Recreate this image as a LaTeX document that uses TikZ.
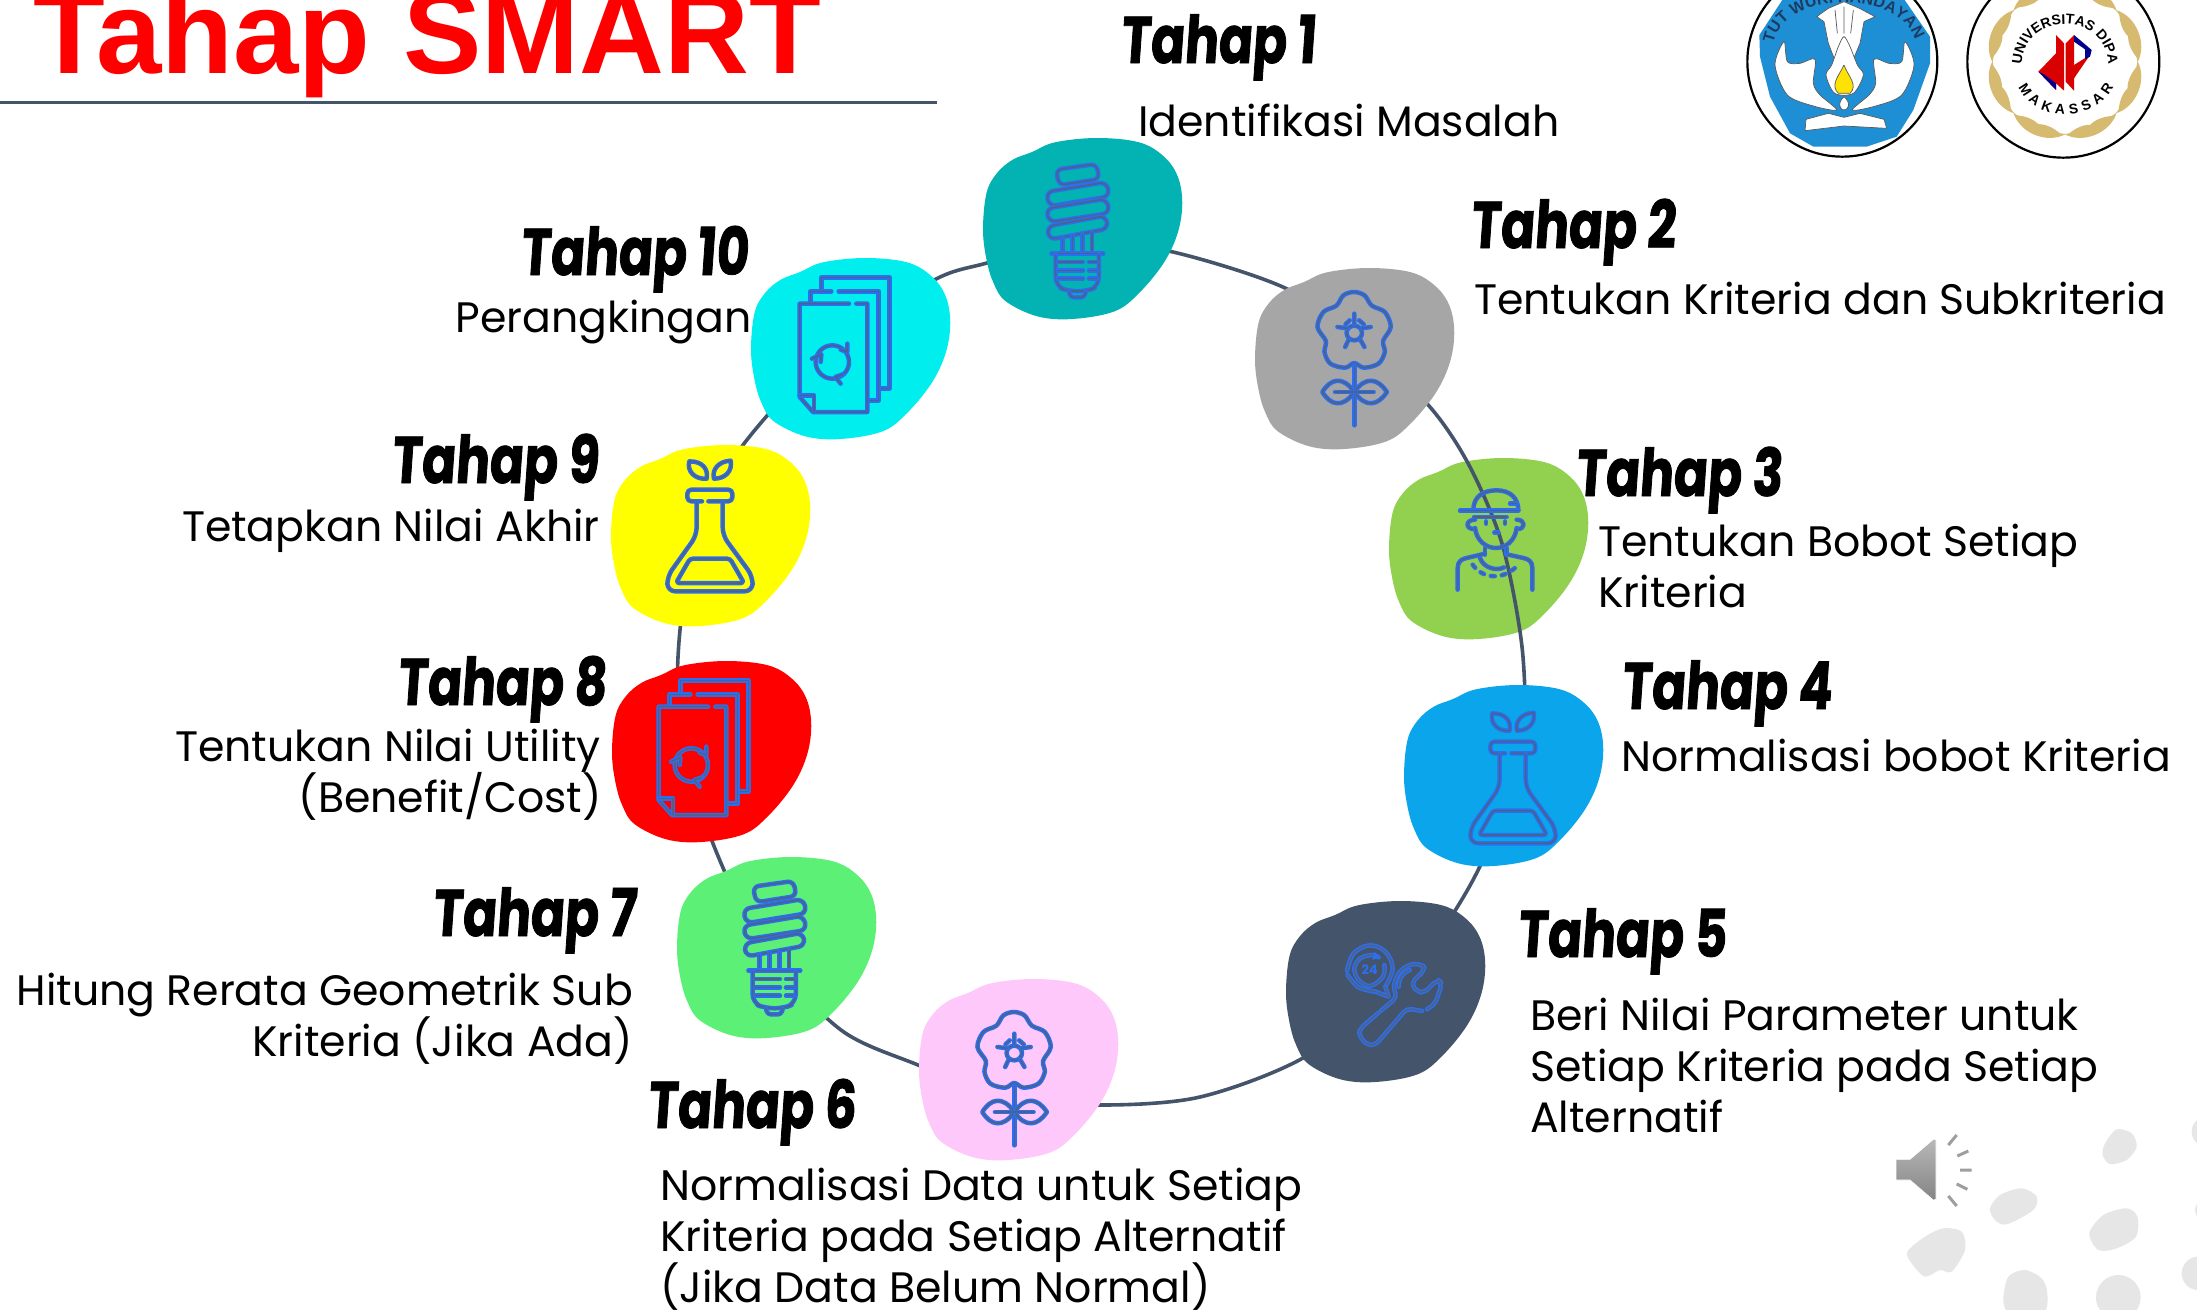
\documentclass[tikz,border=0pt]{standalone}
\usepackage{fontspec}
\usetikzlibrary{decorations.text}
\setmainfont{Poppins}
\newfontfamily\tahapf[FakeStretch=0.76,FakeSlant=0.07,FakeBold=1.2]{Poppins}
\newfontfamily\arialf{Liberation Sans}
\definecolor{ringc}{HTML}{44546A}
\definecolor{iconblue}{HTML}{2B6FF0}
\definecolor{iconcore}{HTML}{4F6080}
\definecolor{golden}{HTML}{D6BA70}
\definecolor{dots}{HTML}{E6E6E6}
\definecolor{pureyellow}{HTML}{FFFF00}
\definecolor{purered}{HTML}{FF0000}
\definecolor{logoblue}{HTML}{1E8FD5}
\definecolor{logonavy}{HTML}{1F3A5F}
\tikzset{
  ring/.style={draw=ringc,line width=3.6pt},
  icon/.style={draw=iconblue,double=iconcore,line width=1.5pt,double distance=1.5pt,line cap=round,line join=round},
  body/.style={font=\fontsize{42.6}{51}\selectfont,inner sep=0pt,text=black},
  bodyl/.style={body,anchor=base west},
  bodyr/.style={body,anchor=base east},
  tahap/.style={font=\tahapf\bfseries\fontsize{66}{70}\selectfont,inner sep=0pt,anchor=base west,text=black},
  logoring/.style={fill=white,draw=black,line width=2.2pt},
  leafline/.style={draw=black!65,line width=.7pt}
}
\newcommand{\blobat}[3]{%
  \begin{scope}[shift={(#1)},x=.3508pt,y=-.33333pt,shift={(-95,-55)}]
    \fill[#2] plot[smooth cycle,tension=.6] coordinates {(235,97)(300,68)(420,55)(540,68)(610,110)(650,170)(663,250)(650,340)(610,430)(540,520)(470,575)(350,598)(250,590)(160,545)(125,490)(105,420)(95,330)(105,220)(135,160)(180,120)};
    \coordinate (#3) at (380,326);
  \end{scope}}
\newcommand{\iconbulb}[1]{%
  \begin{scope}[shift={(#1)},x=.3508pt,y=-.33333pt,shift={(-95,-55)}]
    \draw[icon,rounded corners=6pt] (303,150)--(418,133)--(427,178)--(312,197)--cycle;
    \draw[icon,rounded corners=7pt] (275,217)--(447,187)--(456,230)--(283,260)--cycle;
    \draw[icon,rounded corners=7pt] (275,267)--(447,237)--(456,280)--(283,308)--cycle;
    \draw[icon,rounded corners=7pt] (278,320)--(445,288)--(452,327)--(283,360)--cycle;
    \draw[icon] (322,355)--(322,400) (350,347)--(350,400) (378,345)--(378,400) (405,340)--(405,400);
    \draw[icon] (290,402)--(438,402);
    \draw[icon,rounded corners=9pt] (302,405)--(302,500)--(340,515)--(390,515)--(425,500)--(425,405);
    \draw[icon] (308,427)--(380,427) (397,427)--(420,427) (308,452)--(380,452) (397,452)--(420,452) (308,477)--(380,477) (397,477)--(420,477);
    \draw[icon,rounded corners=3pt] (340,516)--(345,533)--(383,533)--(388,516);
  \end{scope}}
\newcommand{\iconflower}[1]{%
  \begin{scope}[shift={(#1)},x=.3508pt,y=-.33333pt,shift={(-870,-443)}]
    \draw[icon] plot[smooth cycle,tension=.55] coordinates {(1153,728)(1180,742)(1222,730)(1240,695)(1235,662)(1257,620)(1240,575)(1203,556)(1182,525)(1152,515)(1122,525)(1102,556)(1065,575)(1048,620)(1072,662)(1068,695)(1085,730)(1127,742)};
    \draw[icon] (1153,638) circle[radius=22];
    \draw[icon] (1153,580)--(1153,612) (1105,620)--(1133,624) (1200,620)--(1173,624) (1127,680)--(1137,658) (1182,680)--(1170,658) (1140,600)--(1128,612) (1167,600)--(1180,612);
    \draw[icon] (1153,735)--(1153,915);
    \draw[icon] (1153,815) .. controls (1120,765) and (1085,775) .. (1062,815) .. controls (1085,855) and (1120,865) .. (1153,815);
    \draw[icon] (1153,815) .. controls (1186,765) and (1221,775) .. (1246,815) .. controls (1221,855) and (1186,865) .. (1153,815);
    \draw[icon] (1098,815)--(1208,815);
  \end{scope}}
\newcommand{\iconperson}[1]{%
  \begin{scope}[shift={(#1)},x=.33333pt,y=-.33333pt,shift={(-57,-55)}]
    \draw[icon] (310,212) .. controls (310,170) and (340,152) .. (380,152) .. controls (420,152) and (445,175) .. (445,212);
    \draw[icon] (270,213)--(445,213) (312,232)--(410,232) (420,192)--(440,192);
    \draw[icon] (315,240) .. controls (285,240) and (285,270) .. (315,268);
    \draw[icon] (440,240) .. controls (468,240) and (468,270) .. (440,268);
    \draw[icon] (315,265) .. controls (320,305) and (350,325) .. (378,325) .. controls (405,325) and (435,305) .. (440,265);
    \draw[icon] (348,245)--(348,252) (405,245)--(405,252) (373,278)--(385,278);
    \draw[icon] (345,325)--(345,345) (410,325)--(410,345);
    \draw[icon] (263,450)--(263,385) .. controls (263,365) and (275,358) .. (290,355)--(345,342);
    \draw[icon] (487,450)--(487,385) .. controls (487,365) and (475,358) .. (460,355)--(415,345);
    \draw[icon] (330,355) .. controls (340,385) and (380,395) .. (402,383);
    \draw[icon,dash pattern=on 4pt off 7pt] (308,375) .. controls (335,415) and (395,425) .. (440,380);
  \end{scope}}
\newcommand{\iconwrench}[1]{%
  \begin{scope}[shift={(#1)},x=.33333pt,y=-.33333pt,shift={(-107,-63)}]
    \draw[icon] plot[smooth,tension=.6] coordinates {(290,272)(310,220)(358,196)(405,215)(427,265)(405,320)};
    \draw[icon] (405,320)--(415,350)--(375,335);
    \draw[icon] plot[smooth,tension=.6] coordinates {(375,335)(325,322)(292,285)};
    \draw[icon] plot[smooth,tension=.6] coordinates {(402,255)(398,290)(360,318)(325,300)(312,265)(330,235)(365,225)(385,232)};
    \fill[iconblue] (372,215)--(388,232)--(366,240)--cycle;
    \node[inner sep=0pt,text=iconblue,font=\bfseries\fontsize{13}{13}\selectfont] (n24) at (358,270) {24};
    \draw[icon,rounded corners=5pt] (385,398)--(330,445)--(325,465)--(350,495)--(375,495)--(470,385)--(515,393);
    \draw[icon,rounded corners=5pt] (530,388)--(555,370)--(575,310)--(562,298)--(522,338)--(500,335)--(482,310)--(525,268)--(515,252)--(480,252)--(445,275)--(428,320)--(440,352)--(392,392);
    \draw[icon] (445,320) .. controls (445,295) and (460,275) .. (478,270);
  \end{scope}}
\newcommand{\icondocs}[1]{%
  \begin{scope}[shift={(#1)},x=.33333pt,y=-.33333pt,shift={(-35,-63)}]
    \draw[icon] (240,158)--(240,122)--(445,122)--(445,455)--(412,455);
    \draw[icon] (270,163)--(207,163)--(207,195) (292,163)--(412,163)--(412,490)--(380,490);
    \draw[icon] (323,200)--(175,200)--(175,480)--(215,525)--(378,525)--(378,200)--(345,200);
    \draw[icon] (175,475)--(218,475)--(218,525);
    \draw[icon] (273,375) circle[radius=50];
    \draw[icon] (318,320)--(318,345)--(298,338) (212,365)--(240,352)--(238,375) (298,440)--(282,420)--(305,412);
  \end{scope}}
\newcommand{\iconflask}[1]{%
  \begin{scope}[shift={(#1)},x=.33333pt,y=-.33333pt,shift={(-10,-18)}]
    \draw[icon,rounded corners=4pt] (316,220)--(272,220)--(272,185)--(407,185)--(407,220)--(335,220);
    \draw[icon,rounded corners=8pt] (300,222)--(300,322)--(212,445)--(212,490)--(468,490)--(468,445)--(378,322)--(378,222);
    \draw[icon,rounded corners=3pt] (280,392)--(400,392)--(442,465)--(238,465)--cycle;
    \draw[icon] (278,100) .. controls (320,100) and (335,125) .. (330,152) .. controls (295,155) and (270,130) .. (278,100);
    \draw[icon] (402,98) .. controls (365,100) and (345,125) .. (352,152) .. controls (385,152) and (408,130) .. (402,98);
  \end{scope}}
\begin{document}
\begin{tikzpicture}[x=1pt,y=-1pt]
\clip (0,0) rectangle (2197,1309);
\fill[white] (0,0) rectangle (2197,1309);
% pale dots and speaker
\begin{scope}[shift={(1850,1100)},x=.33333pt,y=-.33333pt]
  \fill[dots] plot[smooth cycle] coordinates {(765,130)(800,88)(845,100)(860,140)(830,180)(780,192)(758,165)};
  \fill[dots] plot[smooth cycle] coordinates {(420,325)(450,285)(515,265)(560,290)(550,330)(470,373)(435,360)};
  \fill[dots] plot[smooth cycle] coordinates {(172,455)(225,410)(280,385)(335,395)(345,450)(305,515)(270,510)(225,530)(185,490)};
  \fill[dots] plot[smooth cycle] coordinates {(718,400)(760,345)(830,325)(862,350)(858,410)(800,445)(745,450)};
  \fill[dots] plot[smooth cycle] coordinates {(460,600)(475,530)(525,510)(575,535)(592,580)(580,640)(480,640)};
  \fill[dots] (805,592) circle[radius=67];
  \fill[dots] (1070,95) circle[radius=45];
  \fill[dots] (1065,330) circle[radius=30];
  \fill[dots] (1045,520) circle[radius=50];
  \shade[top color=black!28,bottom color=black!48,draw=white,line width=.6pt] (138,178)--(180,178)--(250,118)--(258,118)--(258,298)--(250,300)--(180,240)--(138,240)--cycle;
  \draw[black!38,line width=3pt] (295,135)--(320,105) (322,168)--(355,153) (330,210)--(365,210) (320,252)--(352,268) (295,288)--(320,318);
\end{scope}
% title
\node[inner sep=0pt,anchor=base west,text=purered,font=\arialf\bfseries\fontsize{117.5}{118}\selectfont] (title) at (33,73) {Tahap SMART};
\coordinate (ruleA) at (0,102);
\coordinate (ruleB) at (937,102);
\draw[ringc,line width=3pt] (ruleA)--(ruleB);
% logos
\begin{scope}[shift={(1700,0)},x=.33333pt,y=-.33333pt]
  \draw[logoring] (427,185) circle[radius=285];
  \fill[logoblue] plot coordinates {(178,105)(260,-20)(600,-20)(690,110)(690,190)(640,330)(590,410)(500,440)(340,440)(270,400)(210,290)(180,170)} -- cycle;
  \path[decorate,decoration={text along path,text align={center},text={|\color{logonavy}\arialf\bfseries\fontsize{16}{16}\selectfont|TUT WURI HANDAYANI}}] (228,105) .. controls (285,-25) and (580,-25) .. (640,105);
  \filldraw[fill=white,leafline] (350,50)--(385,25)--(432,5)--(478,25)--(525,50)--(492,65)--(480,130)--(455,190)--(432,112)--(408,190)--(385,130)--(372,65)--cycle;
  \draw[leafline] (405,30)--(412,100) (432,20)--(432,100) (460,30)--(452,100);
  \filldraw[fill=white,leafline] plot[smooth cycle,tension=.5] coordinates {(252,125)(225,195)(262,285)(340,318)(410,330)(360,285)(340,250)(345,178)(300,190)(262,185)};
  \filldraw[fill=white,leafline] plot[smooth cycle,tension=.5] coordinates {(615,125)(642,195)(605,285)(527,318)(457,330)(507,285)(527,250)(522,178)(567,190)(605,185)};
  \filldraw[fill=white,leafline] plot[smooth cycle] coordinates {(432,110)(450,140)(472,195)(490,225)(460,280)(404,280)(378,225)(395,195)(415,140)};
  \filldraw[fill=yellow!85!orange,leafline] (432,195) .. controls (415,230) and (390,255) .. (415,280) -- (450,280) .. controls (475,255) and (445,230) .. (432,195);
  \filldraw[fill=white,leafline] (432,290) .. controls (410,310) and (420,330) .. (432,330) .. controls (445,330) and (455,310) .. (432,290);
  \filldraw[fill=white,leafline] (318,358)--(385,340)--(432,352)--(480,340)--(552,358)--(560,385)--(432,378)--(315,392)--cycle;
\end{scope}
\begin{scope}[shift={(1700,0)},x=.33333pt,y=-.33333pt]
  \draw[logoring] (1090,185) circle[radius=288];
  \foreach \a in {22.5,67.5,...,337.5}{
    \begin{scope}[shift={(1095,185)},rotate=\a]
      \fill[golden] (200,-85) .. controls (250,-45) and (250,45) .. (200,85) .. controls (214,35) and (214,-35) .. (200,-85);
      \fill[golden] (205,-70) .. controls (235,-40) and (235,-5) .. (208,10) .. controls (195,-10) and (195,-40) .. (205,-70);
      \fill[golden] (208,-5) .. controls (236,10) and (236,40) .. (205,75) .. controls (195,45) and (195,15) .. (208,-5);
    \end{scope}}
  \path[decorate,decoration={text along path,text align={center},text={|\arialf\bfseries\fontsize{14}{14}\selectfont|UNIVERSITAS DIPA}}] (965,200) .. controls (965,30) and (1225,30) .. (1225,200);
  \path[decorate,decoration={text along path,text align={fit to path},text={|\arialf\bfseries\fontsize{14}{14}\selectfont|MAKASSAR}}] (955,262) .. controls (1005,370) and (1185,370) .. (1240,262);
  \fill[red!85!black] (1068,105)--(1092,130)--(1092,272)--(1068,250)--cycle;
  \fill[red!85!black] (1015,215)--(1068,160)--(1068,270)--cycle;
  \fill[red!85!black] (1097,130)--(1122,105)--(1122,272)--(1097,245)--cycle;
  \fill[red!85!black] (1122,195)--(1170,165)--(1122,235)--cycle;
  \fill[blue!55!black] (1122,105)--(1175,150)--(1170,170)--(1155,178)--(1155,148)--(1122,125)--cycle;
  \fill[blue!55!black] (1015,215)--(1068,270)--(1068,250)--(1030,222)--cycle;
\end{scope}
% blobs and ring
\blobat{1389,458}{color={rgb,255:red,146;green,208;blue,80}}{b3}
\coordinate (r01) at (1077,240);\coordinate (r02) at (1173,252);\coordinate (r03) at (1285,288);\coordinate (r04) at (1360,340);\coordinate (r05) at (1430,407);
\coordinate (r06) at (1470,467);\coordinate (r07) at (1503,547);\coordinate (r08) at (1523,657);\coordinate (r09) at (1520,760);\coordinate (r10) at (1473,880);
\coordinate (r11) at (1400,985);\coordinate (r12) at (1303,1058);\coordinate (r13) at (1200,1097);\coordinate (r14) at (1101,1105);\coordinate (r15) at (1000,1097);
\coordinate (r16) at (918,1065);\coordinate (r17) at (841,1030);\coordinate (r18) at (765,950);\coordinate (r19) at (712,841);\coordinate (r20) at (680,730);
\coordinate (r21) at (680,630);\coordinate (r22) at (700,530);\coordinate (r23) at (743,445);\coordinate (r24) at (845,335);\coordinate (r25) at (936,279);\coordinate (r26) at (987,263);
\draw[ring] plot[smooth cycle,tension=.5] coordinates {(r01)(r02)(r03)(r04)(r05)(r06)(r07)(r08)(r09)(r10)(r11)(r12)(r13)(r14)(r15)(r16)(r17)(r18)(r19)(r20)(r21)(r22)(r23)(r24)(r25)(r26)};
\blobat{983,138}{color={rgb,255:red,3;green,178;blue,178}}{b1}
\blobat{1255,268}{color={rgb,255:red,166;green,166;blue,166}}{b2}
\blobat{1404,685}{color={rgb,255:red,11;green,165;blue,236}}{b4}
\blobat{1286,901}{color=ringc}{b5}
\blobat{919,979}{color={rgb,255:red,255;green,200;blue,250}}{b6}
\blobat{677,857}{color={rgb,255:red,92;green,240;blue,118}}{b7}
\blobat{612,661}{color=purered}{b8}
\blobat{611,445}{color=pureyellow}{b9}
\blobat{751,258}{color={rgb,255:red,0;green,238;blue,238}}{b10}
% icons
\iconbulb{983,138}
\iconflower{1255,268}
\iconperson{1389,458}
\iconflask{1403,686}
\iconwrench{1286,901}
\iconflower{915,988}
\iconbulb{680,855}
\icondocs{612,661}
\iconflask{600,434}
\icondocs{753,258}
% labels
\node[tahap] (h1) at (1120,63) {Tahap 1};
\node[tahap] (h2) at (1470,248) {Tahap 2};
\node[tahap] (h3) at (1575,496) {Tahap 3};
\node[tahap] (h4) at (1621,709) {Tahap 4};
\node[tahap] (h5) at (1517,957) {Tahap 5};
\node[tahap] (h6) at (647,1128) {Tahap 6};
\node[tahap] (h7) at (432,936) {Tahap 7};
\node[tahap] (h8) at (397,705) {Tahap 8};
\node[tahap] (h9) at (391,483) {Tahap 9};
\node[tahap] (h10) at (520,275) {Tahap 10};
\node[bodyl] (t1) at (1138,136) {Identifikasi Masalah};
\node[bodyl] (t2) at (1474,314) {Tentukan Kriteria dan Subkriteria};
\node[bodyl] (t3a) at (1598,556) {Tentukan Bobot Setiap};
\node[bodyl] (t3b) at (1598,607) {Kriteria};
\node[bodyl] (t4) at (1621,771) {Normalisasi bobot Kriteria};
\node[bodyl] (t5a) at (1530,1030) {Beri Nilai Parameter untuk};
\node[bodyl] (t5b) at (1530,1081) {Setiap Kriteria pada Setiap};
\node[bodyl] (t5c) at (1530,1132) {Alternatif};
\node[bodyl] (t6a) at (660,1200) {Normalisasi Data untuk Setiap};
\node[bodyl] (t6b) at (660,1251) {Kriteria pada Setiap Alternatif};
\node[bodyl] (t6c) at (660,1302) {(Jika Data Belum Normal)};
\node[bodyr] (t7a) at (633,1005) {Hitung Rerata Geometrik Sub};
\node[bodyr] (t7b) at (633,1056) {Kriteria (Jika Ada)};
\node[bodyr] (t8a) at (601,761) {Tentukan Nilai Utility};
\node[bodyr] (t8b) at (602,812) {(Benefit/Cost)};
\node[bodyr] (t9) at (600,541) {Tetapkan Nilai Akhir};
\node[bodyr] (t10) at (752,332) {Perangkingan};
\end{tikzpicture}
\end{document}
